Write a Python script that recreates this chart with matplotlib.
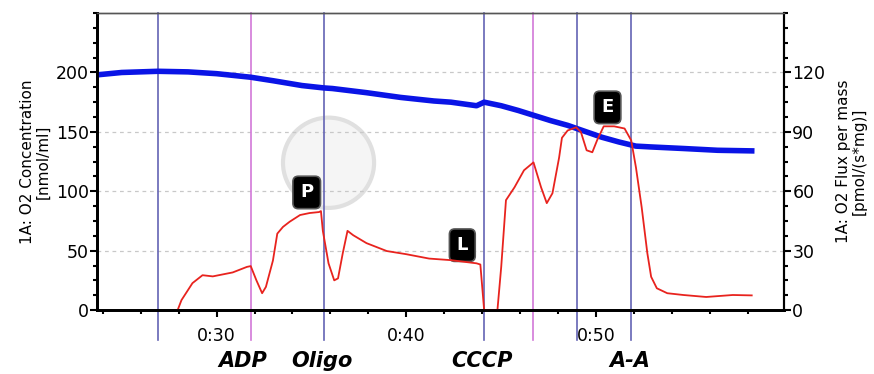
import matplotlib.pyplot as plt
from matplotlib.patches import Ellipse
from matplotlib.ticker import FixedLocator, MultipleLocator
import matplotlib.transforms as mtransforms

plt.rcParams['font.family'] = ['DejaVu Sans']

# O2 concentration (left axis), time in minutes
conc_time = [23.7, 25.0, 26.9, 28.5, 30.0, 31.8, 33.0, 34.5, 35.65, 36.1, 37.9, 39.7,
             41.45, 42.35, 43.7, 44.1, 45.0, 45.9, 46.7, 47.6, 48.5, 49.4, 50.3, 51.2,
             52.1, 52.9, 54.6, 56.4, 58.2]
conc_vals = [198, 200, 201, 200.5, 199, 196, 193, 189, 187, 186.5, 183, 179,
             176, 175, 172, 175, 172, 168, 164, 159.5, 155.5, 150.5, 145.5, 141.5,
             138, 137.3, 136, 134.5, 134]

# O2 flux per mass (right axis)
flux_time = [27.95, 28.15, 28.73, 29.26, 29.8, 30.85, 31.6, 31.8, 32.1, 32.4, 32.6, 32.97,
             33.2, 33.5, 33.85, 34.4, 34.9, 35.4, 35.5, 35.6, 35.9, 36.2, 36.4, 36.65,
             36.9, 37.2, 37.9, 38.97, 40.0, 41.2, 42.35, 43.7, 43.9, 44.1, 44.8, 45.0,
             45.25, 45.7, 46.2, 46.7, 47.1, 47.4, 47.7, 48.05, 48.2, 48.5, 48.95, 49.2,
             49.5, 49.8, 50.05, 50.4, 50.95, 51.5, 51.85, 52.1, 52.4, 52.7, 52.9, 53.2,
             53.75, 54.6, 55.8, 57.2, 58.2]
flux_vals = [0, 5, 13.6, 17.6, 17, 19, 21.8, 22.2, 15, 8.5, 11.7, 25,
             38.6, 42, 44.6, 48, 49, 49.5, 50, 40, 23.6, 15, 16, 28.7,
             40, 37.8, 33.8, 29.8, 28.2, 26, 25.2, 23.6, 23, 0, 0, 21.8,
             55.5, 62, 70.6, 74.6, 62, 54, 59, 77, 87, 90.7, 92.3, 89.9,
             80.7, 79.7, 85.7, 92.8, 92.8, 91.7, 85.7, 72, 52, 28.7, 16.8, 11,
             8.5, 7.6, 6.6, 7.6, 7.4]

# injection events
event_times = [26.9, 31.8, 35.65, 44.1, 46.7, 49.0, 51.85]
event_colors = ['#6464b4', '#d278d8', '#6464b4', '#6464b4', '#d278d8', '#6464b4', '#6464b4']
event_labels = [(31.4, 'ADP'), (35.55, 'Oligo'), (44.0, 'CCCP'), (51.8, 'A-A')]

# state marks (time, left-axis height)
marks = [(34.75, 99, 'P'), (42.95, 54.6, 'L'), (50.6, 170.6, 'E')]

fig = plt.figure(figsize=(8.74, 3.74), dpi=100)
ax = fig.add_axes([0.111, 0.171, 0.786, 0.794])
ax2 = ax.twinx()

# faint logo watermark
ax.add_patch(Ellipse((35.9, 124), 4.8, 76, fc='#f5f5f5', ec='#e0e0e0', lw=3, zorder=0))

ax.set_xlim(23.7, 59.9)
ax.set_ylim(0, 250)
ax2.set_ylim(0, 150)

for y in [50, 100, 150, 200]:
    ax.axhline(y, color='#c8c8c8', lw=0.9, ls=(0, (3, 3)), zorder=0.5)

for t, c in zip(event_times, event_colors):
    ax.axvline(t, ymin=-0.101, ymax=1, color=c, lw=1.2, clip_on=False, zorder=1)

ax.plot(conc_time, conc_vals, color='#0a14e6', lw=4, zorder=3)
ax2.plot(flux_time, flux_vals, color='#e8231e', lw=1.3, zorder=2)

trans = mtransforms.blended_transform_factory(ax.transData, ax.transAxes)
for t, s in event_labels:
    ax.text(t, -0.17, s, transform=trans, ha='center', va='center', fontsize=15,
            fontweight='bold', fontstyle='italic')

for t, y, s in marks:
    ax.text(t, y, s, ha='center', va='center', fontsize=13, fontweight='bold', color='white',
            zorder=5, bbox=dict(boxstyle='round,pad=0.4,rounding_size=0.3', fc='black',
                                ec='#555555', lw=1.2))

ax.xaxis.set_major_locator(FixedLocator([30, 40, 50]))
ax.set_xticklabels(['0:30', '0:40', '0:50'])
ax.xaxis.set_minor_locator(FixedLocator(list(range(24, 60, 2))))
ax.yaxis.set_major_locator(FixedLocator([0, 50, 100, 150, 200]))
ax.yaxis.set_minor_locator(MultipleLocator(12.5))
ax2.yaxis.set_major_locator(FixedLocator([0, 30, 60, 90, 120]))
ax2.yaxis.set_minor_locator(MultipleLocator(7.5))

ax.tick_params(axis='both', which='major', labelsize=12.5, length=5, width=1.5, pad=1)
ax.tick_params(axis='both', which='minor', length=3, width=1.5)
ax2.tick_params(axis='y', which='major', labelsize=12.5, length=5, width=1.5, pad=1)
ax2.tick_params(axis='y', which='minor', length=3, width=1.5)
ax.tick_params(axis='x', pad=7)

for a in (ax, ax2):
    a.spines['left'].set_linewidth(2)
    a.spines['bottom'].set_linewidth(2)
    a.spines['right'].set_linewidth(1.5)
    a.spines['top'].set_color('#555555')
    a.spines['top'].set_linewidth(1)

ax.set_ylabel('1A: O2 Concentration\n[nmol/ml]', fontsize=11, labelpad=4, linespacing=1.0)
ax2.set_ylabel('1A: O2 Flux per mass\n[pmol/(s*mg)]', fontsize=11, labelpad=8,
               rotation=90, linespacing=1.0)

fig.savefig('out.png', dpi=100)
